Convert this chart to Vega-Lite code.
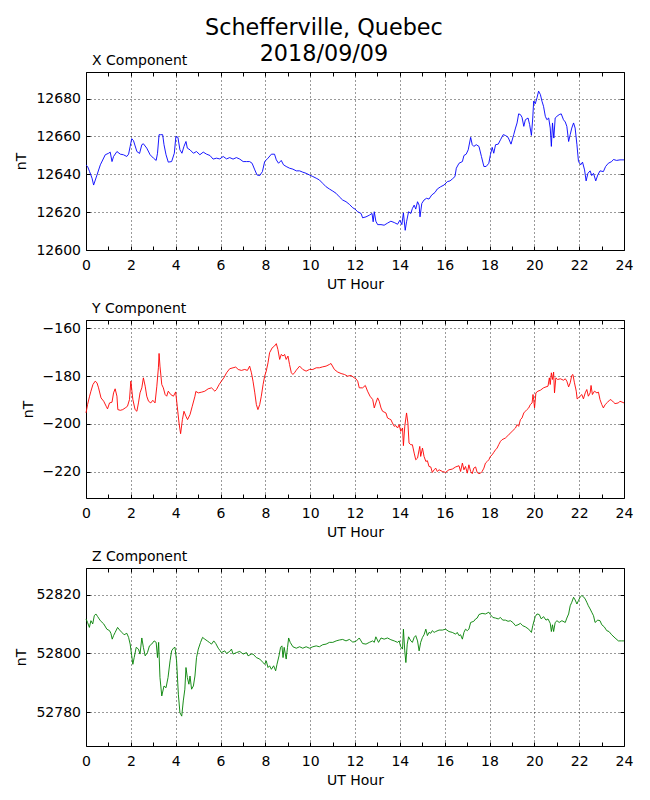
{
  "$schema": "https://vega.github.io/schema/vega-lite/v6.json",
  "padding": {"left": 14, "top": 16, "right": 10, "bottom": 5},
  "title": {
    "text": ["Schefferville, Quebec", "2018/09/09"],
    "fontSize": 22.3,
    "fontWeight": "normal",
    "lineHeight": 26,
    "anchor": "middle",
    "offset": -12
  },
  "spacing": 9,
  "datasets": {
    "x": [
      {"h":0,"v":12644.9},{"h":0.07,"v":12644.1},{"h":0.16,"v":12641.4},{"h":0.27,"v":12637.9},{"h":0.34,"v":12634.3},{"h":0.49,"v":12639.6},{"h":0.64,"v":12645},{"h":0.86,"v":12650.3},{"h":1.01,"v":12651.1},{"h":1.08,"v":12651.7},{"h":1.16,"v":12646.7},{"h":1.23,"v":12649.4},{"h":1.38,"v":12652},{"h":1.53,"v":12650.6},{"h":1.67,"v":12650.3},{"h":1.82,"v":12649.4},{"h":1.9,"v":12650.6},{"h":1.97,"v":12654.7},{"h":2.04,"v":12658.8},{"h":2.12,"v":12657.7},{"h":2.27,"v":12652},{"h":2.39,"v":12651},{"h":2.49,"v":12655.6},{"h":2.56,"v":12656.1},{"h":2.71,"v":12653.8},{"h":2.86,"v":12650.3},{"h":3.01,"v":12648.5},{"h":3.13,"v":12647.3},{"h":3.19,"v":12651.1},{"h":3.26,"v":12660.9},{"h":3.33,"v":12660.9},{"h":3.42,"v":12660.9},{"h":3.48,"v":12655.6},{"h":3.57,"v":12650.3},{"h":3.67,"v":12646.4},{"h":3.82,"v":12646.7},{"h":3.94,"v":12651.1},{"h":4.01,"v":12660},{"h":4.1,"v":12659.5},{"h":4.19,"v":12652.9},{"h":4.28,"v":12651.1},{"h":4.37,"v":12654.7},{"h":4.46,"v":12657.3},{"h":4.52,"v":12653.8},{"h":4.64,"v":12652.9},{"h":4.79,"v":12651.1},{"h":4.93,"v":12652},{"h":5.08,"v":12650.3},{"h":5.23,"v":12651.7},{"h":5.38,"v":12650.6},{"h":5.53,"v":12649.9},{"h":5.67,"v":12648},{"h":5.82,"v":12648.5},{"h":5.97,"v":12648.1},{"h":6.12,"v":12649.4},{"h":6.27,"v":12648.1},{"h":6.41,"v":12648.8},{"h":6.56,"v":12648},{"h":6.71,"v":12648.8},{"h":6.86,"v":12648},{"h":7.01,"v":12646.7},{"h":7.16,"v":12646.7},{"h":7.3,"v":12646.7},{"h":7.41,"v":12645.8},{"h":7.53,"v":12642.3},{"h":7.63,"v":12639.6},{"h":7.75,"v":12639.3},{"h":7.87,"v":12641.4},{"h":7.97,"v":12646.7},{"h":8.12,"v":12648.5},{"h":8.27,"v":12650.6},{"h":8.41,"v":12650.6},{"h":8.49,"v":12647.6},{"h":8.59,"v":12645.8},{"h":8.71,"v":12647.3},{"h":8.81,"v":12645},{"h":8.93,"v":12644.1},{"h":9.08,"v":12643.2},{"h":9.23,"v":12642.7},{"h":9.38,"v":12641.8},{"h":9.53,"v":12641.8},{"h":9.67,"v":12641.1},{"h":9.82,"v":12640.5},{"h":9.97,"v":12639.6},{"h":10.12,"v":12638.8},{"h":10.27,"v":12637.9},{"h":10.41,"v":12637},{"h":10.56,"v":12635.2},{"h":10.71,"v":12633.4},{"h":10.86,"v":12632.2},{"h":11.01,"v":12631.1},{"h":11.16,"v":12629.9},{"h":11.3,"v":12628.1},{"h":11.45,"v":12626.4},{"h":11.6,"v":12625.5},{"h":11.75,"v":12624.1},{"h":11.9,"v":12622.3},{"h":12,"v":12621.6},
      {"h":12.12,"v":12620.2},{"h":12.27,"v":12619.3},{"h":12.34,"v":12617},{"h":12.49,"v":12617.5},{"h":12.64,"v":12618.4},{"h":12.76,"v":12619.3},{"h":12.81,"v":12614.9},{"h":12.86,"v":12620.2},{"h":12.93,"v":12615.2},{"h":13.01,"v":12613.4},{"h":13.16,"v":12613.4},{"h":13.3,"v":12613.1},{"h":13.45,"v":12614.2},{"h":13.6,"v":12615.2},{"h":13.75,"v":12614.5},{"h":13.9,"v":12613.6},{"h":14,"v":12615.7},{"h":14.09,"v":12613.4},{"h":14.16,"v":12619.6},{"h":14.24,"v":12610.4},{"h":14.3,"v":12614.9},{"h":14.39,"v":12620.2},{"h":14.49,"v":12619.3},{"h":14.56,"v":12621.9},{"h":14.64,"v":12623.7},{"h":14.71,"v":12621.6},{"h":14.79,"v":12625.5},{"h":14.86,"v":12623.7},{"h":14.9,"v":12617.5},{"h":14.98,"v":12624.6},{"h":15.08,"v":12626.4},{"h":15.19,"v":12627.3},{"h":15.3,"v":12626.9},{"h":15.42,"v":12629},{"h":15.57,"v":12630.4},{"h":15.67,"v":12632.2},{"h":15.82,"v":12633.4},{"h":15.97,"v":12634.3},{"h":16.12,"v":12636.1},{"h":16.24,"v":12636.5},{"h":16.34,"v":12637.5},{"h":16.46,"v":12638.8},{"h":16.52,"v":12643.2},{"h":16.64,"v":12645.8},{"h":16.79,"v":12646.7},{"h":16.86,"v":12649.9},{"h":16.96,"v":12650.6},{"h":17.05,"v":12652.9},{"h":17.16,"v":12659.5},{"h":17.23,"v":12655.6},{"h":17.3,"v":12654.7},{"h":17.41,"v":12655.6},{"h":17.53,"v":12654.7},{"h":17.64,"v":12649.4},{"h":17.75,"v":12644.1},{"h":17.85,"v":12644.1},{"h":17.97,"v":12645.8},{"h":18.04,"v":12650.3},{"h":18.12,"v":12654.2},{"h":18.19,"v":12651.1},{"h":18.27,"v":12655.6},{"h":18.39,"v":12655.9},{"h":18.49,"v":12658.2},{"h":18.61,"v":12660.9},{"h":18.71,"v":12660.5},{"h":18.83,"v":12659.5},{"h":18.96,"v":12655.9},{"h":19.08,"v":12660.9},{"h":19.16,"v":12664.4},{"h":19.23,"v":12667.1},{"h":19.3,"v":12671.9},{"h":19.38,"v":12671.5},{"h":19.45,"v":12670.1},{"h":19.53,"v":12665.3},{"h":19.6,"v":12668.8},{"h":19.72,"v":12669.7},{"h":19.79,"v":12666.2},{"h":19.87,"v":12660.5},{"h":19.93,"v":12669.7},{"h":19.97,"v":12678.6},{"h":20.04,"v":12677.2},{"h":20.12,"v":12680.4},{"h":20.19,"v":12683.9},{"h":20.27,"v":12682.1},{"h":20.34,"v":12678.6},{"h":20.41,"v":12675.9},{"h":20.49,"v":12670.6},{"h":20.56,"v":12668.8},{"h":20.64,"v":12669.7},{"h":20.71,"v":12664.4},{"h":20.76,"v":12654.7},{"h":20.81,"v":12667.1},{"h":20.87,"v":12659.1},{"h":20.93,"v":12669.7},{"h":21.01,"v":12670.6},{"h":21.11,"v":12671.5},{"h":21.2,"v":12671.9},{"h":21.3,"v":12668.8},{"h":21.38,"v":12667.6},{"h":21.45,"v":12665.3},{"h":21.53,"v":12657.3},{"h":21.6,"v":12660.9},{"h":21.67,"v":12664.4},{"h":21.75,"v":12667.1},{"h":21.82,"v":12664.4},{"h":21.9,"v":12655.6},{"h":21.97,"v":12646.7},{"h":22.07,"v":12645},{"h":22.15,"v":12646.4},{"h":22.24,"v":12642.3},{"h":22.31,"v":12636.5},{"h":22.39,"v":12640.5},{"h":22.49,"v":12641.8},{"h":22.56,"v":12639.3},{"h":22.64,"v":12640.5},{"h":22.74,"v":12636.5},{"h":22.83,"v":12639.6},{"h":22.93,"v":12641.8},{"h":23.08,"v":12641.4},{"h":23.18,"v":12644.1},{"h":23.3,"v":12645.8},{"h":23.45,"v":12646.7},{"h":23.53,"v":12647.8},{"h":23.67,"v":12647.3},{"h":23.82,"v":12647.6},{"h":24,"v":12647.6}
    ],
    "y": [
      {"h":0,"v":-195.4},{"h":0.07,"v":-191.9},{"h":0.16,"v":-188.4},{"h":0.22,"v":-186.3},{"h":0.31,"v":-183.5},{"h":0.41,"v":-182.1},{"h":0.49,"v":-182.8},{"h":0.56,"v":-184.9},{"h":0.67,"v":-189.1},{"h":0.79,"v":-190.5},{"h":0.9,"v":-192.6},{"h":0.96,"v":-193.7},{"h":1.05,"v":-191.2},{"h":1.16,"v":-190.9},{"h":1.23,"v":-187},{"h":1.3,"v":-185.3},{"h":1.38,"v":-188.4},{"h":1.42,"v":-194},{"h":1.53,"v":-194.3},{"h":1.64,"v":-194},{"h":1.75,"v":-193.3},{"h":1.85,"v":-192.6},{"h":1.94,"v":-189.8},{"h":2,"v":-182.1},{"h":2.09,"v":-189.8},{"h":2.19,"v":-194},{"h":2.27,"v":-194.7},{"h":2.34,"v":-191.2},{"h":2.41,"v":-187},{"h":2.49,"v":-184.9},{"h":2.56,"v":-180.7},{"h":2.64,"v":-184.2},{"h":2.71,"v":-188.4},{"h":2.79,"v":-190.5},{"h":2.89,"v":-191.2},{"h":2.98,"v":-190.1},{"h":3.08,"v":-191.2},{"h":3.16,"v":-184.2},{"h":3.23,"v":-176.5},{"h":3.26,"v":-170.5},{"h":3.3,"v":-175.8},{"h":3.38,"v":-183.5},{"h":3.45,"v":-184.9},{"h":3.53,"v":-187.7},{"h":3.6,"v":-188.4},{"h":3.67,"v":-186.3},{"h":3.78,"v":-187.7},{"h":3.9,"v":-188.4},{"h":4,"v":-186.6},{"h":4.07,"v":-192.6},{"h":4.15,"v":-199.6},{"h":4.22,"v":-204.1},{"h":4.3,"v":-198.2},{"h":4.37,"v":-194.7},{"h":4.46,"v":-196.8},{"h":4.53,"v":-198.2},{"h":4.64,"v":-196.1},{"h":4.74,"v":-192.6},{"h":4.86,"v":-188.4},{"h":4.9,"v":-186.4},{"h":5.01,"v":-187},{"h":5.16,"v":-186.7},{"h":5.3,"v":-186.3},{"h":5.45,"v":-185.3},{"h":5.6,"v":-184.9},{"h":5.75,"v":-186.3},{"h":5.82,"v":-185.6},{"h":5.94,"v":-183.5},{"h":6.04,"v":-182.1},{"h":6.15,"v":-180.7},{"h":6.27,"v":-178.6},{"h":6.41,"v":-176.9},{"h":6.56,"v":-176.5},{"h":6.68,"v":-176.2},{"h":6.79,"v":-177.2},{"h":6.93,"v":-177.6},{"h":7.08,"v":-177.2},{"h":7.2,"v":-177.6},{"h":7.3,"v":-175.8},{"h":7.38,"v":-178.6},{"h":7.45,"v":-182.1},{"h":7.53,"v":-187},{"h":7.6,"v":-191.9},{"h":7.67,"v":-194},{"h":7.75,"v":-191.9},{"h":7.82,"v":-188.4},{"h":7.9,"v":-183.5},{"h":7.97,"v":-180},{"h":8.04,"v":-177.9},{"h":8.12,"v":-174.4},{"h":8.19,"v":-170.2},{"h":8.31,"v":-168.1},{"h":8.41,"v":-167.4},{"h":8.49,"v":-166.4},{"h":8.56,"v":-168.8},{"h":8.64,"v":-173},{"h":8.71,"v":-170.9},{"h":8.79,"v":-171.6},{"h":8.86,"v":-170.9},{"h":8.93,"v":-173},{"h":9.01,"v":-171.6},{"h":9.08,"v":-175.1},{"h":9.16,"v":-178.6},{"h":9.23,"v":-179.3},{"h":9.3,"v":-178.6},{"h":9.38,"v":-177.5},{"h":9.53,"v":-175.8},{"h":9.67,"v":-177.2},{"h":9.82,"v":-177.9},{"h":9.97,"v":-177.2},{"h":10.12,"v":-177.2},{"h":10.27,"v":-176.5},{"h":10.41,"v":-176.5},{"h":10.56,"v":-176.1},{"h":10.71,"v":-175.8},{"h":10.86,"v":-175.1},{"h":10.93,"v":-174.7},{"h":11.08,"v":-177.2},{"h":11.23,"v":-178.3},{"h":11.38,"v":-178.9},{"h":11.53,"v":-179.3},{"h":11.67,"v":-180},{"h":11.82,"v":-179.7},{"h":11.97,"v":-180.7},
      {"h":12.04,"v":-181.1},{"h":12.12,"v":-182.1},{"h":12.19,"v":-184.9},{"h":12.34,"v":-184.9},{"h":12.46,"v":-183.9},{"h":12.56,"v":-186.3},{"h":12.67,"v":-188.4},{"h":12.79,"v":-189.8},{"h":12.86,"v":-193.3},{"h":12.93,"v":-191.2},{"h":13.01,"v":-189.1},{"h":13.08,"v":-190.5},{"h":13.16,"v":-193.3},{"h":13.23,"v":-194.7},{"h":13.38,"v":-195.4},{"h":13.45,"v":-197.5},{"h":13.53,"v":-197.9},{"h":13.6,"v":-198.2},{"h":13.67,"v":-199.6},{"h":13.75,"v":-201},{"h":13.82,"v":-200.7},{"h":13.9,"v":-201.7},{"h":13.97,"v":-200.3},{"h":14.04,"v":-203.1},{"h":14.12,"v":-201.7},{"h":14.16,"v":-209.1},{"h":14.22,"v":-201},{"h":14.3,"v":-195.4},{"h":14.36,"v":-199.6},{"h":14.41,"v":-208},{"h":14.49,"v":-208.7},{"h":14.56,"v":-208.7},{"h":14.64,"v":-212.2},{"h":14.71,"v":-215},{"h":14.79,"v":-214.3},{"h":14.86,"v":-210.8},{"h":14.89,"v":-209.4},{"h":14.93,"v":-213.6},{"h":15.01,"v":-210.1},{"h":15.08,"v":-213.6},{"h":15.16,"v":-215.7},{"h":15.23,"v":-215.4},{"h":15.3,"v":-217.8},{"h":15.38,"v":-218},{"h":15.45,"v":-220.3},{"h":15.53,"v":-219.2},{"h":15.6,"v":-218.5},{"h":15.67,"v":-219.9},{"h":15.75,"v":-219.2},{"h":15.9,"v":-219.9},{"h":16.04,"v":-220.3},{"h":16.19,"v":-219.2},{"h":16.34,"v":-218.9},{"h":16.49,"v":-218},{"h":16.64,"v":-217.5},{"h":16.71,"v":-219.9},{"h":16.79,"v":-216.4},{"h":16.86,"v":-219.2},{"h":16.93,"v":-217.8},{"h":17.01,"v":-220.6},{"h":17.08,"v":-217.1},{"h":17.16,"v":-219.9},{"h":17.23,"v":-220.8},{"h":17.3,"v":-218.5},{"h":17.38,"v":-218},{"h":17.45,"v":-220.3},{"h":17.53,"v":-220.8},{"h":17.6,"v":-220.6},{"h":17.67,"v":-219.9},{"h":17.75,"v":-218.5},{"h":17.82,"v":-216.4},{"h":17.9,"v":-215.7},{"h":17.97,"v":-215},{"h":18.04,"v":-213.6},{"h":18.12,"v":-212.9},{"h":18.19,"v":-211.9},{"h":18.27,"v":-210.8},{"h":18.34,"v":-210.1},{"h":18.41,"v":-208.7},{"h":18.49,"v":-207.3},{"h":18.56,"v":-206.6},{"h":18.71,"v":-205.9},{"h":18.86,"v":-204.5},{"h":19.01,"v":-203.1},{"h":19.16,"v":-201.7},{"h":19.23,"v":-200.3},{"h":19.3,"v":-201},{"h":19.38,"v":-198.2},{"h":19.45,"v":-197.5},{"h":19.53,"v":-195.4},{"h":19.6,"v":-194.7},{"h":19.67,"v":-194},{"h":19.75,"v":-193.3},{"h":19.82,"v":-191.9},{"h":19.9,"v":-191.2},{"h":19.94,"v":-187.7},{"h":19.97,"v":-189.8},{"h":20.01,"v":-193.3},{"h":20.07,"v":-187},{"h":20.16,"v":-186.3},{"h":20.27,"v":-185.9},{"h":20.41,"v":-184.9},{"h":20.52,"v":-184.5},{"h":20.61,"v":-184.2},{"h":20.67,"v":-180.7},{"h":20.71,"v":-183.5},{"h":20.76,"v":-178.6},{"h":20.81,"v":-181.4},{"h":20.86,"v":-178.3},{"h":20.9,"v":-187},{"h":20.96,"v":-180.7},{"h":21.04,"v":-181.4},{"h":21.16,"v":-181.1},{"h":21.3,"v":-181.7},{"h":21.38,"v":-181.1},{"h":21.45,"v":-182.1},{"h":21.53,"v":-184.5},{"h":21.6,"v":-182.8},{"h":21.67,"v":-179.7},{"h":21.72,"v":-179.3},{"h":21.79,"v":-182.8},{"h":21.87,"v":-186.3},{"h":21.91,"v":-189.5},{"h":21.97,"v":-189.1},{"h":22.04,"v":-188.4},{"h":22.12,"v":-187.7},{"h":22.19,"v":-189.5},{"h":22.27,"v":-187},{"h":22.34,"v":-185.6},{"h":22.41,"v":-188.4},{"h":22.49,"v":-187},{"h":22.53,"v":-183.9},{"h":22.59,"v":-187.7},{"h":22.68,"v":-186.3},{"h":22.79,"v":-187},{"h":22.86,"v":-186.7},{"h":22.93,"v":-189.8},{"h":23.01,"v":-191.9},{"h":23.08,"v":-193.3},{"h":23.16,"v":-191.9},{"h":23.27,"v":-190.9},{"h":23.38,"v":-189.8},{"h":23.45,"v":-190.1},{"h":23.53,"v":-190.9},{"h":23.6,"v":-191.5},{"h":23.75,"v":-191.2},{"h":23.82,"v":-190.5},{"h":24,"v":-191.2}
    ],
    "z": [
      {"h":0,"v":52811.8},{"h":0.07,"v":52810.6},{"h":0.15,"v":52808.9},{"h":0.22,"v":52811.2},{"h":0.3,"v":52810.1},{"h":0.37,"v":52812.9},{"h":0.44,"v":52813.5},{"h":0.52,"v":52812.6},{"h":0.64,"v":52811.2},{"h":0.79,"v":52810.1},{"h":0.93,"v":52808.3},{"h":1.05,"v":52807.8},{"h":1.11,"v":52806.9},{"h":1.17,"v":52804.9},{"h":1.23,"v":52806.1},{"h":1.3,"v":52807.2},{"h":1.41,"v":52808.9},{"h":1.5,"v":52808},{"h":1.6,"v":52807.2},{"h":1.7,"v":52806.4},{"h":1.82,"v":52806.9},{"h":1.9,"v":52805.5},{"h":1.97,"v":52803.2},{"h":2.04,"v":52799.2},{"h":2.09,"v":52796.3},{"h":2.15,"v":52798.6},{"h":2.24,"v":52802.1},{"h":2.34,"v":52801.5},{"h":2.41,"v":52799.8},{"h":2.49,"v":52805.3},{"h":2.56,"v":52802.1},{"h":2.64,"v":52799.2},{"h":2.74,"v":52800.3},{"h":2.83,"v":52802.6},{"h":2.93,"v":52803.2},{"h":3.04,"v":52804.3},{"h":3.13,"v":52803.8},{"h":3.19,"v":52798.6},{"h":3.24,"v":52803.8},{"h":3.3,"v":52791.8},{"h":3.38,"v":52785.5},{"h":3.48,"v":52788.9},{"h":3.57,"v":52788.3},{"h":3.66,"v":52791.8},{"h":3.75,"v":52797.5},{"h":3.82,"v":52800.9},{"h":3.9,"v":52801.8},{"h":3.97,"v":52802.1},{"h":4.04,"v":52797.5},{"h":4.12,"v":52786.1},{"h":4.19,"v":52779.8},{"h":4.27,"v":52778.6},{"h":4.34,"v":52783.8},{"h":4.41,"v":52787.8},{"h":4.46,"v":52795.2},{"h":4.52,"v":52791.8},{"h":4.59,"v":52789.5},{"h":4.64,"v":52792.3},{"h":4.71,"v":52787.8},{"h":4.79,"v":52788.9},{"h":4.86,"v":52792.3},{"h":4.93,"v":52798.6},{"h":5.01,"v":52801.5},{"h":5.11,"v":52803.8},{"h":5.2,"v":52805.5},{"h":5.3,"v":52804.9},{"h":5.41,"v":52804.3},{"h":5.5,"v":52803.8},{"h":5.6,"v":52803.2},{"h":5.7,"v":52804.3},{"h":5.79,"v":52803.4},{"h":5.9,"v":52801.8},{"h":5.97,"v":52801.1},{"h":6.04,"v":52800.3},{"h":6.19,"v":52800.9},{"h":6.27,"v":52800},{"h":6.41,"v":52800.7},{"h":6.49,"v":52801.5},{"h":6.56,"v":52799.8},{"h":6.71,"v":52800.3},{"h":6.86,"v":52800.7},{"h":7.01,"v":52799.8},{"h":7.16,"v":52800.3},{"h":7.23,"v":52799.2},{"h":7.38,"v":52799.8},{"h":7.45,"v":52799.8},{"h":7.6,"v":52798.6},{"h":7.75,"v":52798.1},{"h":7.9,"v":52796.9},{"h":7.97,"v":52796.3},{"h":8.04,"v":52797.5},{"h":8.12,"v":52795.2},{"h":8.19,"v":52795.8},{"h":8.27,"v":52794.6},{"h":8.37,"v":52795.8},{"h":8.46,"v":52794.1},{"h":8.52,"v":52796.3},{"h":8.61,"v":52799.2},{"h":8.68,"v":52802.1},{"h":8.74,"v":52802.6},{"h":8.79,"v":52798.6},{"h":8.84,"v":52802.1},{"h":8.93,"v":52798.1},{"h":8.99,"v":52802.1},{"h":9.04,"v":52805.3},{"h":9.11,"v":52803.8},{"h":9.23,"v":52802.3},{"h":9.38,"v":52801.8},{"h":9.53,"v":52802.3},{"h":9.67,"v":52801.8},{"h":9.82,"v":52802.3},{"h":9.97,"v":52801.8},{"h":10.12,"v":52802.3},{"h":10.27,"v":52802.6},{"h":10.41,"v":52802.3},{"h":10.56,"v":52803},{"h":10.71,"v":52803.2},{"h":10.86,"v":52803.8},{"h":11.01,"v":52803.8},{"h":11.16,"v":52804.3},{"h":11.3,"v":52804.6},{"h":11.45,"v":52804.8},{"h":11.6,"v":52804.3},{"h":11.75,"v":52804.8},{"h":11.9,"v":52803.9},
      {"h":12.04,"v":52804.1},{"h":12.19,"v":52805.3},{"h":12.34,"v":52803.4},{"h":12.49,"v":52803.2},{"h":12.64,"v":52803.8},{"h":12.79,"v":52804.3},{"h":12.86,"v":52803.8},{"h":12.93,"v":52805.7},{"h":13.05,"v":52803.8},{"h":13.16,"v":52805.3},{"h":13.3,"v":52804.9},{"h":13.45,"v":52805.3},{"h":13.6,"v":52804.7},{"h":13.75,"v":52804.3},{"h":13.9,"v":52803.8},{"h":13.97,"v":52804.3},{"h":14.04,"v":52802.3},{"h":14.12,"v":52801.5},{"h":14.16,"v":52808.3},{"h":14.22,"v":52800.9},{"h":14.27,"v":52796.9},{"h":14.33,"v":52803.2},{"h":14.39,"v":52805.7},{"h":14.49,"v":52804.3},{"h":14.56,"v":52803.8},{"h":14.64,"v":52805.5},{"h":14.71,"v":52806.1},{"h":14.79,"v":52804.3},{"h":14.86,"v":52800.9},{"h":14.93,"v":52803.8},{"h":15.01,"v":52805.5},{"h":15.08,"v":52806.4},{"h":15.16,"v":52808.3},{"h":15.23,"v":52806.1},{"h":15.3,"v":52807.2},{"h":15.38,"v":52806.9},{"h":15.45,"v":52807.8},{"h":15.53,"v":52807.2},{"h":15.6,"v":52807.5},{"h":15.75,"v":52808},{"h":15.9,"v":52808},{"h":16.04,"v":52808.3},{"h":16.19,"v":52807.5},{"h":16.34,"v":52807.2},{"h":16.49,"v":52806.6},{"h":16.56,"v":52807.2},{"h":16.64,"v":52806.1},{"h":16.71,"v":52806.4},{"h":16.79,"v":52804.9},{"h":16.86,"v":52807.2},{"h":16.93,"v":52808.3},{"h":17.01,"v":52807.8},{"h":17.08,"v":52808.3},{"h":17.16,"v":52810.6},{"h":17.3,"v":52811},{"h":17.38,"v":52811.8},{"h":17.45,"v":52812.1},{"h":17.53,"v":52813.3},{"h":17.67,"v":52813.7},{"h":17.82,"v":52813.5},{"h":17.97,"v":52814.1},{"h":18.04,"v":52813.3},{"h":18.15,"v":52812.3},{"h":18.27,"v":52812.1},{"h":18.39,"v":52811.8},{"h":18.49,"v":52812.3},{"h":18.59,"v":52811.4},{"h":18.71,"v":52811.4},{"h":18.83,"v":52811},{"h":18.93,"v":52811.2},{"h":19.04,"v":52810.6},{"h":19.16,"v":52809.5},{"h":19.27,"v":52809.8},{"h":19.38,"v":52810.3},{"h":19.48,"v":52809.5},{"h":19.6,"v":52809.1},{"h":19.75,"v":52808.3},{"h":19.87,"v":52807.2},{"h":19.93,"v":52809.5},{"h":19.99,"v":52811.2},{"h":20.04,"v":52812.6},{"h":20.12,"v":52813.5},{"h":20.22,"v":52813.3},{"h":20.31,"v":52811.8},{"h":20.41,"v":52812.6},{"h":20.52,"v":52811.4},{"h":20.61,"v":52811.8},{"h":20.71,"v":52810.3},{"h":20.76,"v":52807.5},{"h":20.81,"v":52809.8},{"h":20.86,"v":52807.5},{"h":20.93,"v":52810.6},{"h":21.01,"v":52811.2},{"h":21.11,"v":52810.6},{"h":21.23,"v":52811.2},{"h":21.38,"v":52810.6},{"h":21.45,"v":52812.1},{"h":21.53,"v":52813.5},{"h":21.6,"v":52816.3},{"h":21.67,"v":52817.5},{"h":21.75,"v":52819.2},{"h":21.82,"v":52818.3},{"h":21.9,"v":52816.9},{"h":21.97,"v":52818.1},{"h":22.04,"v":52819.2},{"h":22.12,"v":52819.8},{"h":22.19,"v":52819.4},{"h":22.27,"v":52818.6},{"h":22.34,"v":52817.5},{"h":22.41,"v":52816.3},{"h":22.49,"v":52815.2},{"h":22.56,"v":52814.1},{"h":22.64,"v":52812.9},{"h":22.71,"v":52810.6},{"h":22.83,"v":52811.4},{"h":22.93,"v":52811.2},{"h":23.01,"v":52809.8},{"h":23.12,"v":52809.1},{"h":23.23,"v":52807.8},{"h":23.33,"v":52807.5},{"h":23.45,"v":52806.4},{"h":23.6,"v":52805.3},{"h":23.75,"v":52804.3},{"h":23.9,"v":52804.3},{"h":24,"v":52804.3}
    ]
  },
  "vconcat": [
    {
      "title": {"text": "X Component", "anchor": "start", "frame": "group", "dx": 6, "offset": 4, "fontSize": 14, "fontWeight": "normal"},
      "width": 538,
      "height": 178,
      "data": {"name": "x"},
      "layer": [
        {
          "mark": {"type": "line", "color": "#0000ff", "strokeWidth": 0.9},
          "encoding": {
            "x": {"field": "h", "type": "quantitative", "scale": {"domain": [0, 24], "nice": false, "zero": false},
              "axis": {"orient": "bottom", "title": "UT Hour", "values": [0,1,2,3,4,5,6,7,8,9,10,11,12,13,14,15,16,17,18,19,20,21,22,23,24], "labelExpr": "datum.value % 2 === 0 ? datum.label : ''", "gridOpacity": {"condition": {"test": "datum.value % 2 === 0", "value": 1}, "value": 0}}},
            "y": {"field": "v", "type": "quantitative", "scale": {"domain": [12600, 12694], "nice": false, "zero": false},
              "axis": {"orient": "left", "title": "nT", "values": [12600, 12620, 12640, 12660, 12680], "format": "d"}}
          }
        },
        {
          "mark": {"type": "line", "opacity": 0},
          "encoding": {
            "x": {"field": "h", "type": "quantitative", "scale": {"domain": [0, 24], "nice": false, "zero": false},
              "axis": {"orient": "top", "title": null, "labels": false, "grid": false, "values": [0,1,2,3,4,5,6,7,8,9,10,11,12,13,14,15,16,17,18,19,20,21,22,23,24]}},
            "y": {"field": "v", "type": "quantitative", "scale": {"domain": [12600, 12694], "nice": false, "zero": false},
              "axis": {"orient": "right", "title": null, "labels": false, "grid": false, "values": [12600, 12620, 12640, 12660, 12680]}}
          }
        }
      ],
      "resolve": {"axis": {"x": "independent", "y": "independent"}}
    },
    {
      "title": {"text": "Y Component", "anchor": "start", "frame": "group", "dx": 6, "offset": 4, "fontSize": 14, "fontWeight": "normal"},
      "width": 538,
      "height": 178,
      "data": {"name": "y"},
      "layer": [
        {
          "mark": {"type": "line", "color": "#ff0000", "strokeWidth": 0.9},
          "encoding": {
            "x": {"field": "h", "type": "quantitative", "scale": {"domain": [0, 24], "nice": false, "zero": false},
              "axis": {"orient": "bottom", "title": "UT Hour", "values": [0,1,2,3,4,5,6,7,8,9,10,11,12,13,14,15,16,17,18,19,20,21,22,23,24], "labelExpr": "datum.value % 2 === 0 ? datum.label : ''", "gridOpacity": {"condition": {"test": "datum.value % 2 === 0", "value": 1}, "value": 0}}},
            "y": {"field": "v", "type": "quantitative", "scale": {"domain": [-231, -156.5], "nice": false, "zero": false},
              "axis": {"orient": "left", "title": "nT", "values": [-220, -200, -180, -160], "format": "d"}}
          }
        },
        {
          "mark": {"type": "line", "opacity": 0},
          "encoding": {
            "x": {"field": "h", "type": "quantitative", "scale": {"domain": [0, 24], "nice": false, "zero": false},
              "axis": {"orient": "top", "title": null, "labels": false, "grid": false, "values": [0,1,2,3,4,5,6,7,8,9,10,11,12,13,14,15,16,17,18,19,20,21,22,23,24]}},
            "y": {"field": "v", "type": "quantitative", "scale": {"domain": [-231, -156.5], "nice": false, "zero": false},
              "axis": {"orient": "right", "title": null, "labels": false, "grid": false, "values": [-220, -200, -180, -160]}}
          }
        }
      ],
      "resolve": {"axis": {"x": "independent", "y": "independent"}}
    },
    {
      "title": {"text": "Z Component", "anchor": "start", "frame": "group", "dx": 6, "offset": 4, "fontSize": 14, "fontWeight": "normal"},
      "width": 538,
      "height": 178,
      "data": {"name": "z"},
      "layer": [
        {
          "mark": {"type": "line", "color": "#008000", "strokeWidth": 0.9},
          "encoding": {
            "x": {"field": "h", "type": "quantitative", "scale": {"domain": [0, 24], "nice": false, "zero": false},
              "axis": {"orient": "bottom", "title": "UT Hour", "values": [0,1,2,3,4,5,6,7,8,9,10,11,12,13,14,15,16,17,18,19,20,21,22,23,24], "labelExpr": "datum.value % 2 === 0 ? datum.label : ''", "gridOpacity": {"condition": {"test": "datum.value % 2 === 0", "value": 1}, "value": 0}}},
            "y": {"field": "v", "type": "quantitative", "scale": {"domain": [52768.4, 52829.2], "nice": false, "zero": false},
              "axis": {"orient": "left", "title": "nT", "values": [52780, 52800, 52820], "format": "d"}}
          }
        },
        {
          "mark": {"type": "line", "opacity": 0},
          "encoding": {
            "x": {"field": "h", "type": "quantitative", "scale": {"domain": [0, 24], "nice": false, "zero": false},
              "axis": {"orient": "top", "title": null, "labels": false, "grid": false, "values": [0,1,2,3,4,5,6,7,8,9,10,11,12,13,14,15,16,17,18,19,20,21,22,23,24]}},
            "y": {"field": "v", "type": "quantitative", "scale": {"domain": [52768.4, 52829.2], "nice": false, "zero": false},
              "axis": {"orient": "right", "title": null, "labels": false, "grid": false, "values": [52780, 52800, 52820]}}
          }
        }
      ],
      "resolve": {"axis": {"x": "independent", "y": "independent"}}
    }
  ],
  "config": {
    "font": "DejaVu Sans",
    "background": "#ffffff",
    "view": {"stroke": "#000000", "strokeWidth": 1},
    "title": {"color": "#000000", "font": "DejaVu Sans"},
    "axis": {
      "domain": false,
      "labelFont": "DejaVu Sans",
      "labelFontSize": 14,
      "labelColor": "#000000",
      "labelFlush": false,
      "labelOverlap": false,
      "titleFont": "DejaVu Sans",
      "titleFontSize": 14,
      "titleFontWeight": "normal",
      "titleColor": "#000000",
      "tickColor": "#000000",
      "tickSize": -4,
      "tickWidth": 1,
      "gridColor": "#000000",
      "gridDash": [1, 3],
      "gridWidth": 0.8
    },
    "axisX": {"labelPadding": 12, "titlePadding": 5},
    "axisY": {"labelPadding": 9.5, "titlePadding": 7}
  }
}
